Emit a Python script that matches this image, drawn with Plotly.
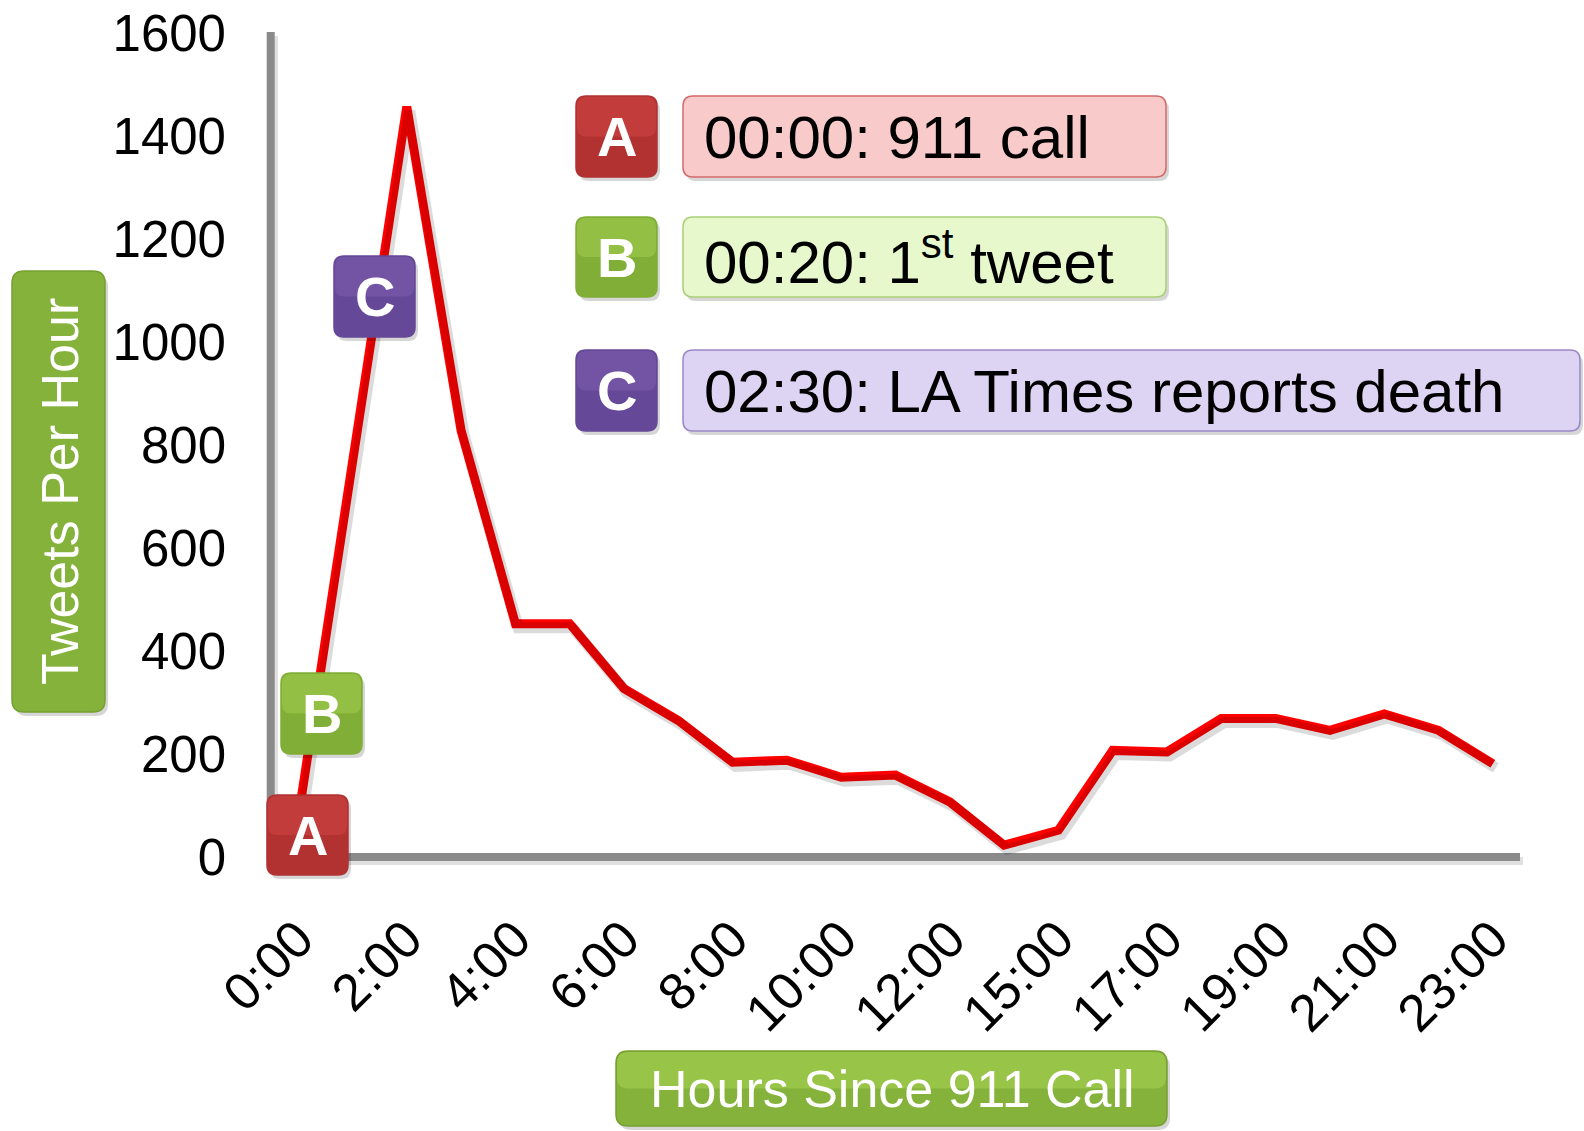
import plotly.graph_objects as go

# ---- data ----
hours = ["0:00", "1:00", "2:00", "3:00", "4:00", "5:00", "6:00", "7:00", "8:00",
         "9:00", "10:00", "11:00", "12:00", "13:00", "15:00", "16:00", "17:00",
         "18:00", "19:00", "20:00", "21:00", "22:00", "23:00"]
tweets = [75, 765, 1457, 828, 453, 453, 327, 265, 184, 188, 155, 159, 107, 23,
          52, 207, 204, 269, 269, 246, 278, 246, 181]
shown_ticks = hours[::2]
y_ticks = [0, 200, 400, 600, 800, 1000, 1200, 1400, 1600]
events = ["A", "B", "C"]
event_texts = ["00:00: 911 call", "00:20: 1<sup>st</sup> tweet",
               "02:30: LA Times reports death"]

# ---- layout geometry (pixels) ----
FW, FH = 1584, 1131
L, R, T, B = 271, 64, 33, 274
W = FW - L - R
H = FH - T - B
FONT = "Liberation Sans, Arial, sans-serif"


def px(x):
    return (x - L) / W


def py(y):
    return (T + H - y) / H


def rrect(x0, y0, x1, y1, r=10):
    rx, ry = r / W, r / H
    a, b, c, d = px(x0), py(y1), px(x1), py(y0)  # left, bottom, right, top
    return (f"M{a+rx},{b} L{c-rx},{b} Q{c},{b} {c},{b+ry} L{c},{d-ry} "
            f"Q{c},{d} {c-rx},{d} L{a+rx},{d} Q{a},{d} {a},{d-ry} "
            f"L{a},{b+ry} Q{a},{b} {a+rx},{b} Z")


shapes = []
annotations = []


def box(x0, y0, x1, y1, fill, line=None, r=10, shadow=True, layer="above", top=None):
    if shadow:
        shapes.append(dict(type="path", xref="paper", yref="paper", layer=layer,
                           path=rrect(x0 + 3, y0 + 4, x1 + 3, y1 + 4, r),
                           fillcolor="rgba(0,0,0,0.16)", line=dict(width=0)))
    shapes.append(dict(type="path", xref="paper", yref="paper", layer=layer,
                       path=rrect(x0, y0, x1, y1, r), fillcolor=fill,
                       line=dict(color=line or fill, width=1.5)))
    if top:  # lighter upper half to suggest the glossy gradient
        shapes.append(dict(type="path", xref="paper", yref="paper", layer=layer,
                           path=rrect(x0 + 1, y0 + 1, x1 - 1, (y0 + y1) / 2, r - 1),
                           fillcolor=top, line=dict(width=0)))


def label(x, y, text, size, color, xanchor="center", angle=0):
    annotations.append(dict(xref="paper", yref="paper", x=px(x), y=py(y),
                            xanchor=xanchor, yanchor="middle", text=text,
                            textangle=angle, showarrow=False,
                            font=dict(family=FONT, size=size, color=color)))


# axis lines (with shadow), paper-referenced so they are not clipped
shapes.append(dict(type="line", xref="paper", yref="paper", layer="below",
                   x0=px(274), x1=px(274), y0=py(36), y1=py(864),
                   line=dict(color="rgba(0,0,0,0.12)", width=8)))
shapes.append(dict(type="line", xref="paper", yref="paper", layer="below",
                   x0=px(270.7), x1=px(270.7), y0=py(32), y1=py(860),
                   line=dict(color="#8a8a8a", width=8)))
shapes.append(dict(type="line", xref="paper", yref="paper", layer="below",
                   x0=px(270), x1=px(1523), y0=py(861), y1=py(861),
                   line=dict(color="rgba(0,0,0,0.12)", width=8)))
shapes.append(dict(type="line", xref="paper", yref="paper", layer="below",
                   x0=px(267), x1=px(1520), y0=py(857), y1=py(857),
                   line=dict(color="#8a8a8a", width=8)))

# colours
RED, GREEN, PURPLE = "#b23232", "#80ae36", "#664898"
TOPS = {"A": "rgba(210,70,70,0.55)", "B": "rgba(160,205,80,0.55)",
        "C": "rgba(125,95,175,0.55)"}
fills = {"A": ("#f9caca", "#d46a6a"), "B": ("#e6f8cc", "#a9cf76"),
         "C": ("#ddd3f2", "#9a89c6")}
cols = {"A": RED, "B": GREEN, "C": PURPLE}

# axis title boxes
box(12, 271, 105, 712, "#84b23a", "#76a030", r=12, top=None)
label(60, 492, "Tweets Per Hour", 52, "white", angle=-90)
box(616, 1051, 1167, 1126, "#84b23a", "#76a030", r=12, top="rgba(165,208,80,0.6)")
label(892, 1089, "Hours Since 911 Call", 52, "white")

# legend-like event boxes
rows = [(96, 177, 1166), (217, 297, 1166), (350, 431, 1580)]
for ev, txt, (y0, y1, xr) in zip(events, event_texts, rows):
    box(576, y0, 657, y1, cols[ev], cols[ev], r=10, top=TOPS[ev])
    label(616.5, (y0 + y1) / 2, f"<b>{ev}</b>", 56, "white")
    box(683, y0, xr, y1, fills[ev][0], fills[ev][1], r=10)
    label(702, (y0 + y1) / 2 + 1, txt, 60, "black", xanchor="left")

# markers on the chart
marks = [(267, 795, 348, 875), (281, 673, 362, 754), (334, 256, 415, 337)]
for ev, (x0, y0, x1, y1) in zip(events, marks):
    box(x0, y0, x1, y1, cols[ev], cols[ev], r=10, top=TOPS[ev])
    label((x0 + x1) / 2, (y0 + y1) / 2, f"<b>{ev}</b>", 56, "white")

fig = go.Figure()
fig.add_trace(go.Scatter(x=hours, y=tweets, mode="lines", xaxis="x2", yaxis="y2",
                         line=dict(color="rgba(0,0,0,0.14)", width=11),
                         hoverinfo="skip", showlegend=False))
fig.add_trace(go.Scatter(x=hours, y=tweets, mode="lines",
                         line=dict(color="#ff0000", width=9), showlegend=False))

fig.update_layout(
    width=FW, height=FH,
    margin=dict(l=L, r=R, t=T, b=B, pad=0, autoexpand=False),
    paper_bgcolor="white", plot_bgcolor="white",
    font=dict(family=FONT, color="black"),
    xaxis=dict(type="category", categoryorder="array", categoryarray=hours,
               range=[-0.5, len(hours) - 0.5], tickmode="array", tickvals=shown_ticks,
               ticktext=shown_ticks, tickangle=-45, showgrid=False, zeroline=False,
               showline=False, ticks="", ticklabelstandoff=40, automargin=False,
               tickfont=dict(family=FONT, size=52, color="black")),
    yaxis=dict(range=[0, 1600], tickmode="array", tickvals=y_ticks, showgrid=False,
               zeroline=False, showline=False, ticks="", ticklabelstandoff=44,
               automargin=False,
               tickfont=dict(family=FONT, size=51, color="black")),
    xaxis2=dict(type="category", categoryorder="array", categoryarray=hours,
                overlaying="x", visible=False,
                range=[-0.5 - 3 / 54.3, len(hours) - 0.5 - 3 / 54.3]),
    yaxis2=dict(overlaying="y", visible=False, range=[8, 1608]),
    shapes=shapes, annotations=annotations,
)

fig.write_html("out.html", config={"displayModeBar": False},
               post_script="document.body.style.margin='0px';"
                           "document.body.style.padding='0px';")
